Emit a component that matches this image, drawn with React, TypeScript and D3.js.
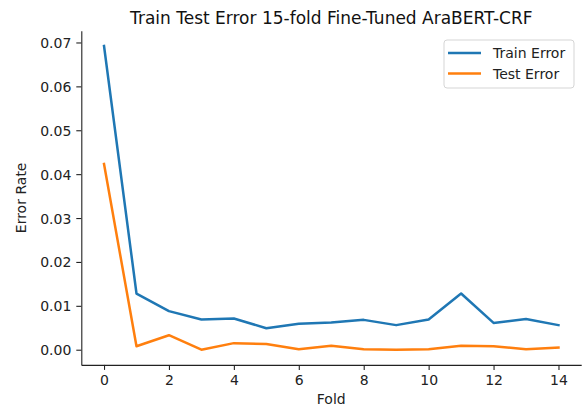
import React, { useRef, useEffect } from 'react';
import * as d3 from 'd3';

const folds = [0, 1, 2, 3, 4, 5, 6, 7, 8, 9, 10, 11, 12, 13, 14];
const trainError = [0.0692, 0.0128, 0.0088, 0.0069, 0.0071, 0.0049, 0.0059, 0.0062, 0.0068, 0.0056, 0.0069, 0.0128, 0.0061, 0.007, 0.0056];
const testError = [0.0423, 0.0008, 0.0033, 0.0, 0.0015, 0.0013, 0.0001, 0.0009, 0.0001, 0.0, 0.0001, 0.0009, 0.0008, 0.0001, 0.0005];
const xTicks = [0, 2, 4, 6, 8, 10, 12, 14];
const yTicks = [0, 0.01, 0.02, 0.03, 0.04, 0.05, 0.06, 0.07];
const seriesNames = ['Train Error', 'Test Error'];
const colors = ['#1f77b4', '#ff7f0e'];

const W = 588;
const H = 410;
const FONT = 'DejaVu Sans, sans-serif';

const App = () => {
  const ref = useRef<SVGSVGElement>(null);

  useEffect(() => {
    const svg = d3.select(ref.current);
    svg.selectAll('*').remove();

    const left = 81.3, right = 581.2, top = 30.8, bottom = 364.9;

    const x = d3.scaleLinear().domain([-0.7, 14.7]).range([left, right]);
    const yMax = d3.max(trainError) as number;
    const pad = yMax * 0.05;
    const y = d3.scaleLinear().domain([-pad, yMax + pad]).range([bottom, top]);

    svg.append('rect').attr('width', W).attr('height', H).attr('fill', 'white');

    // axes
    const gx = svg.append('g').attr('transform', `translate(0,${bottom})`)
      .call(d3.axisBottom(x).tickValues(xTicks).tickFormat(d3.format('d')).tickSize(5).tickPadding(5).tickSizeOuter(0));
    const gy = svg.append('g').attr('transform', `translate(${left},0)`)
      .call(d3.axisLeft(y).tickValues(yTicks).tickFormat(d3.format('.2f')).tickSize(5).tickPadding(5).tickSizeOuter(0));

    [gx, gy].forEach(g => {
      g.selectAll('path').attr('stroke', '#222').attr('stroke-width', 1.1);
      g.selectAll('line').attr('stroke', '#222').attr('stroke-width', 1.1);
      g.selectAll('text').attr('fill', '#222').style('font-family', FONT).style('font-size', '14px');
    });
    gy.selectAll('text').attr('dy', '0.36em');

    // lines
    const series = [trainError, testError];
    const line = d3.line<number>().x((_, i) => x(folds[i])).y(d => y(d));
    series.forEach((s, i) => {
      svg.append('path').datum(s).attr('d', line).attr('fill', 'none')
        .attr('stroke', colors[i]).attr('stroke-width', 2.5)
        .attr('stroke-linejoin', 'round').attr('stroke-linecap', 'square');
    });

    // title and labels
    svg.append('text').attr('x', (left + right) / 2).attr('y', 24).attr('text-anchor', 'middle')
      .style('font-family', FONT).style('font-size', '17px').attr('fill', '#111')
      .text('Train Test Error 15-fold Fine-Tuned AraBERT-CRF');
    svg.append('text').attr('x', (left + right) / 2).attr('y', 404).attr('text-anchor', 'middle')
      .style('font-family', FONT).style('font-size', '14px').attr('fill', '#222').text('Fold');
    svg.append('text').attr('transform', `translate(26,${(top + bottom) / 2}) rotate(-90)`).attr('text-anchor', 'middle')
      .style('font-family', FONT).style('font-size', '14px').attr('fill', '#222').text('Error Rate');

    // legend
    const lg = svg.append('g');
    lg.append('rect').attr('x', 444).attr('y', 40).attr('width', 130).attr('height', 48).attr('rx', 3)
      .attr('fill', 'white').attr('fill-opacity', 0.8).attr('stroke', '#d5d5d5');
    seriesNames.forEach((name, i) => {
      const ly = 53 + i * 20.5;
      lg.append('line').attr('x1', 448).attr('x2', 481).attr('y1', ly).attr('y2', ly)
        .attr('stroke', colors[i]).attr('stroke-width', 2.5);
      lg.append('text').attr('x', 493).attr('y', ly).attr('dy', '0.36em')
        .style('font-family', FONT).style('font-size', '14px').attr('fill', '#222').text(name);
    });
  }, []);

  return (
    <div>
      <svg ref={ref} width={W} height={H} style={{ position: 'absolute', left: 0, top: 0, display: 'block' }}></svg>
    </div>
  );
};

export default App;
